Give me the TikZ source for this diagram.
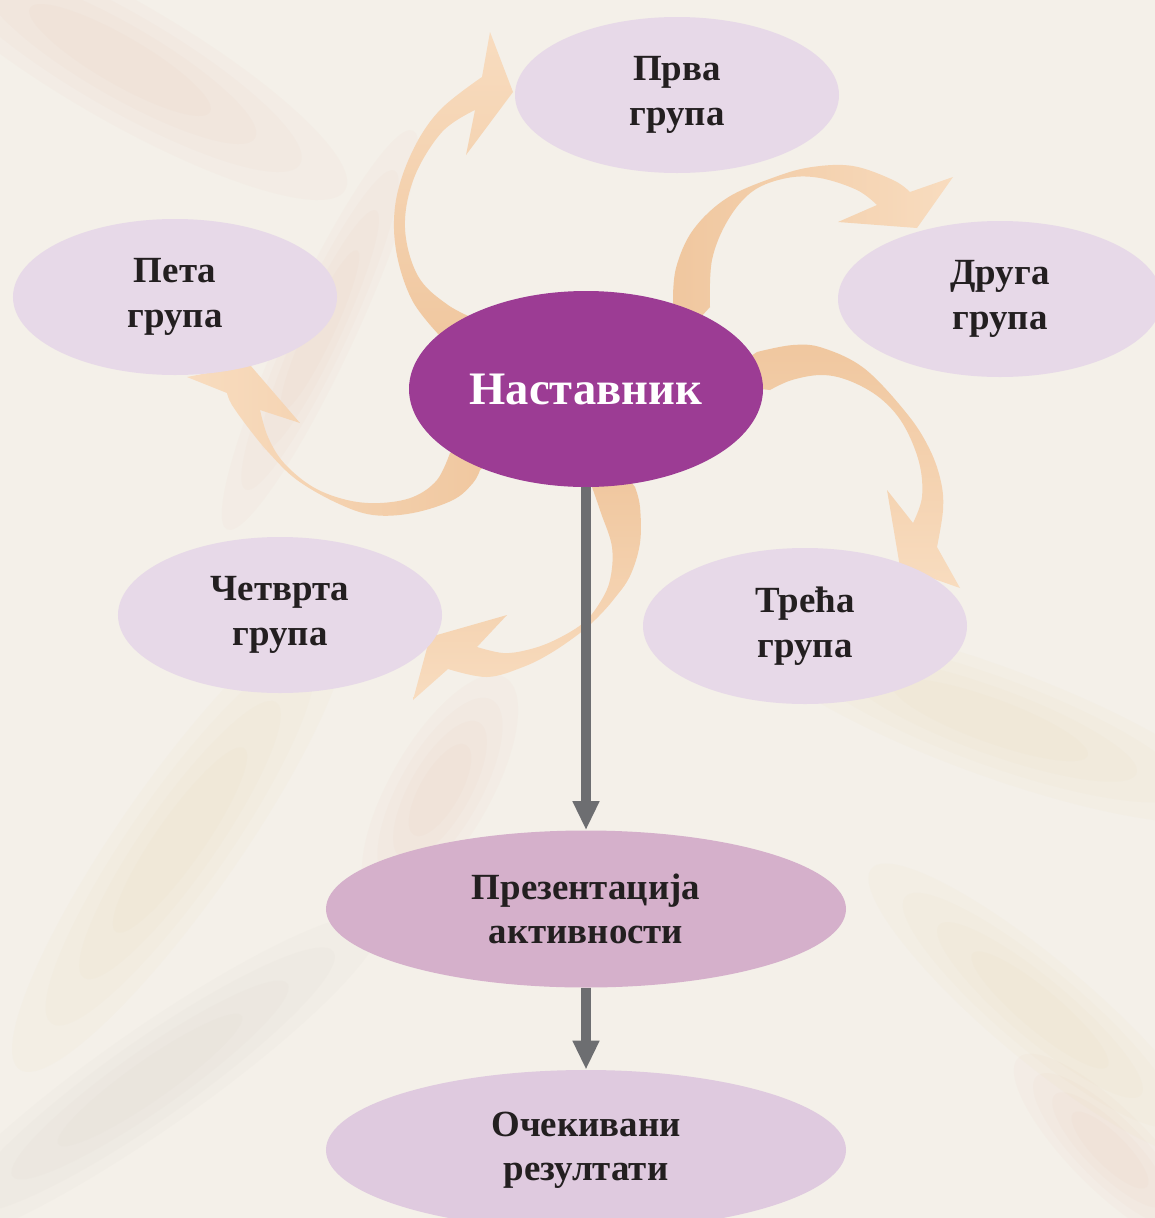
\documentclass[tikz,border=0pt]{standalone}
\usepackage{fontspec}
\setmainfont{Liberation Serif}
\usetikzlibrary{shapes.geometric,arrows.meta}

\definecolor{bgcream}{HTML}{F4F0E9}
\definecolor{grplilac}{HTML}{E7D9E8}
\definecolor{nastpurple}{HTML}{9C3C94}
\definecolor{prezpink}{HTML}{D5B0CB}
\definecolor{ocekpink}{HTML}{DFCADF}
\definecolor{arrdark}{HTML}{F0C79F}
\definecolor{arrlight}{HTML}{F8DCBF}
\definecolor{linegray}{HTML}{6D6E71}
\definecolor{txtdark}{HTML}{231F20}
\definecolor{streakpink}{HTML}{E6B49C}
\definecolor{streakyel}{HTML}{EBD29A}
\definecolor{streakgray}{HTML}{C9C2B6}

% soft blurred streak of the backdrop: centre x, centre y, radii, angle, colour
\newcommand{\mrlja}[6]{%
  \foreach \f in {1,0.8,0.6,0.4}
    \fill[#6,opacity=0.05] (#1,#2) ellipse [x radius=\f*#3,y radius=\f*#4,rotate=#5];}

\begin{document}
\begin{tikzpicture}[x=0.2mm,y=-0.2mm,
    grupa/.style={ellipse,fill=grplilac,inner sep=0pt,minimum width=64.8mm,minimum height=31.2mm,
      align=center,text=txtdark,font=\bfseries\fontsize{21}{25.5}\selectfont},
    sredina/.style={ellipse,inner sep=0pt,minimum width=104mm,minimum height=31.4mm,
      align=center,text=txtdark,font=\bfseries\fontsize{21}{25}\selectfont},
    tok/.style={draw=linegray,line width=2mm,-{Triangle[length=5.8mm,width=5mm]}},
    strelica/.style={draw=none}]
  \clip (0,0) rectangle (1155,1218);
  \fill[bgcream] (0,0) rectangle (1155,1218);
  % faint streaks of the backdrop
  \mrlja{120}{60}{260}{60}{-30}{streakpink}
  \mrlja{320}{330}{220}{35}{65}{streakpink}
  \mrlja{180}{840}{280}{60}{55}{streakyel}
  \mrlja{440}{790}{130}{50}{60}{streakpink}
  \mrlja{990}{720}{260}{55}{-20}{streakyel}
  \mrlja{1040}{1010}{220}{50}{-40}{streakyel}
  \mrlja{150}{1080}{280}{50}{35}{streakgray}
  \mrlja{1110}{1150}{130}{40}{-45}{streakpink}

  % curved arrows from the teacher to the groups
  \shade[strelica,top color=arrlight,bottom color=arrdark] (455,345) -- plot[smooth,tension=0.6] coordinates {(440,336) (412,300) (396,250) (396,200) (413,150) (440,110) (482,77)}
    -- (490,32) -- (513,92) -- (466,155) -- (475,110)
    -- plot[smooth,tension=0.6] coordinates {(475,110) (442,132) (414,178) (405,228) (418,276) (448,305) (482,322)} -- cycle;
  \shade[strelica,left color=arrdark,right color=arrlight] (676,322) -- plot[smooth,tension=0.6] coordinates {(673,302) (676,268) (693,230) (727,198) (775,177) (812,167) (853,166) (893,180) (910,192)}
    -- (953,177) -- (917,228) -- (838,222) -- (877,205)
    -- plot[smooth,tension=0.6] coordinates {(877,205) (857,190) (820,178) (787,178) (753,191) (728,220) (712,260) (710,307)} -- (700,318) -- cycle;
  \shade[strelica,top color=arrdark,bottom color=arrlight] (748,358) -- plot[smooth,tension=0.6] coordinates {(757,352) (793,345) (823,348) (865,369) (908,415) (930,450) (941,482) (943,510) (937,547)}
    -- (960,588) -- (900,567) -- (887,490) -- (913,523)
    -- plot[smooth,tension=0.6] coordinates {(913,523) (922,497) (919,462) (903,424) (880,398) (850,381) (822,375) (792,380) (770,390)} -- (752,388) -- cycle;
  \shade[strelica,top color=arrdark,bottom color=arrlight] (600,478) -- plot[smooth,tension=0.6] coordinates {(592,487) (601,513) (612,547) (610,580) (599,604) (582,624) (553,641) (527,650) (503,653) (477,647)}
    -- (507,615) -- (430,637) -- (413,700) -- (448,669)
    -- plot[smooth,tension=0.6] coordinates {(448,669) (487,677) (523,667) (551,653) (580,633) (598,617) (614,599) (630,576) (640,543) (640,507) (635,487)} -- (628,478) -- cycle;
  \shade[strelica,left color=arrlight,right color=arrdark] (462,445) -- plot[smooth,tension=0.6] coordinates {(450,453) (437,480) (413,497) (380,503) (347,500) (313,487) (284,463) (268,437) (260,410)}
    -- (300,423) -- (250,365) -- (187,377) -- (227,393)
    -- plot[smooth,tension=0.6] coordinates {(227,393) (232,405) (250,430) (270,454) (297,480) (337,503) (373,515) (413,513) (453,500) (473,483) (480,470)} -- (490,462) -- cycle;

  % teacher and groups
  \node[ellipse,fill=nastpurple,inner sep=0pt,minimum width=70.8mm,minimum height=39.2mm,text=white,
    font=\bfseries\fontsize{26.5}{30}\selectfont] (nast) at (586,389) {Наставник};
  \node[grupa] (prva) at (677,95) {Прва\\група};
  \node[grupa] (druga) at (1000,299) {Друга\\група};
  \node[grupa] (treca) at (805,626) {Трећа\\група};
  \node[grupa] (cetvrta) at (280,615) {Четврта\\група};
  \node[grupa] (peta) at (175,297) {Пета\\група};

  % presentation and results
  \node[sredina,fill=prezpink] (prez) at (586,909) {Презентација\\активности};
  \node[sredina,fill=ocekpink,minimum height=32mm] (ocek) at (586,1150) {Очекивани\\резултати};

  \draw[tok] (nast) -- (prez);
  \draw[tok] (prez) -- (ocek);
\end{tikzpicture}
\end{document}
